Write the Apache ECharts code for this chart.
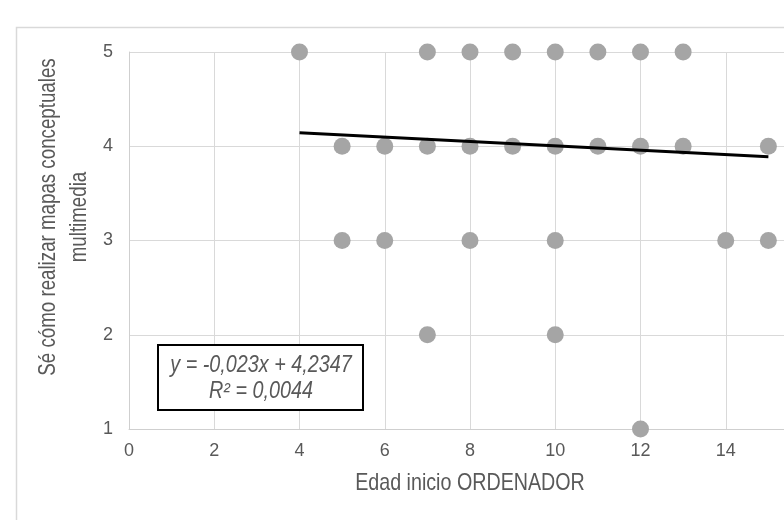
<!DOCTYPE html>
<html>
<head>
<meta charset="utf-8">
<script src="https://cdn.jsdelivr.net/npm/echarts@6/dist/echarts.min.js"></script>
<style>
  html, body { margin: 0; padding: 0; background: #ffffff; overflow: hidden; width: 784px; height: 520px; }
  #chart { width: 840px; height: 520px; }
</style>
</head>
<body>
<div id="chart"></div>
<script>
// Survey answers: age of first computer use vs. self-rated multimedia concept-map skill
var edadInicio = [4, 7, 8, 9, 10, 11, 12, 13,
                  5, 6, 7, 8, 9, 10, 11, 12, 13, 15,
                  5, 6, 8, 10, 14, 15,
                  7, 10,
                  12];
var valoracion = [5, 5, 5, 5, 5, 5, 5, 5,
                  4, 4, 4, 4, 4, 4, 4, 4, 4, 4,
                  3, 3, 3, 3, 3, 3,
                  2, 2,
                  1];

// Linear trendline reported by the spreadsheet
var pendiente = -0.023;
var ordenada = 4.2347;
var r2Texto = 'R² = 0,0044';
var ecuacionTexto = 'y = -0,023x + 4,2347';

var xTicks = { min: 0, max: 16, interval: 2 };
var yTicks = { min: 1, max: 5, interval: 1 };

var tituloX = 'Edad inicio ORDENADOR';
var tituloY = 'Sé cómo realizar mapas conceptuales\nmultimedia';

var puntos = edadInicio.map(function (x, i) { return [x, valoracion[i]]; });
var xMin = Math.min.apply(null, edadInicio);
var xMax = Math.max.apply(null, edadInicio);
var tendencia = [[xMin, pendiente * xMin + ordenada], [xMax, pendiente * xMax + ordenada]];

var textColor = '#595959';
var gridColor = '#D9D9D9';
var fontFam = '"Liberation Sans", Arial, sans-serif';

// The plot runs past the right edge of the visible page; the canvas is wider than the window.
var chart = echarts.init(document.getElementById('chart'), null, { renderer: 'canvas' });
chart.setOption({
  animation: false,
  backgroundColor: '#ffffff',
  grid: { left: 129, right: 29, top: 52, bottom: 91, containLabel: false },
  xAxis: {
    type: 'value',
    min: xTicks.min, max: xTicks.max, interval: xTicks.interval,
    axisLine: { show: true, lineStyle: { color: '#CFCFCF', width: 1 } },
    axisTick: { show: false },
    axisLabel: { color: textColor, fontSize: 18, fontFamily: fontFam, margin: 13 },
    splitLine: { show: true, lineStyle: { color: gridColor, width: 1 } }
  },
  yAxis: {
    type: 'value',
    min: yTicks.min, max: yTicks.max, interval: yTicks.interval,
    axisLine: { show: true, lineStyle: { color: '#CFCFCF', width: 1 } },
    axisTick: { show: false },
    axisLabel: { color: textColor, fontSize: 18, fontFamily: fontFam, margin: 16 },
    splitLine: { show: true, lineStyle: { color: gridColor, width: 1 } }
  },
  series: [
    {
      type: 'scatter',
      data: puntos,
      symbol: 'circle',
      symbolSize: 17,
      itemStyle: { color: '#A5A5A5', opacity: 1 },
      z: 2
    },
    {
      type: 'line',
      data: tendencia,
      symbol: 'none',
      lineStyle: { color: '#000000', width: 3 },
      z: 3
    }
  ],
  graphic: [
    {
      type: 'rect',
      shape: { x: 16.5, y: 27.5, width: 900, height: 600 },
      style: { fill: 'none', stroke: gridColor, lineWidth: 1.5 },
      silent: true, z: 0
    },
    {
      type: 'text',
      x: 470, y: 483,
      scaleX: 0.82,
      style: {
        text: tituloX, font: '24px ' + fontFam, fill: textColor,
        align: 'center', verticalAlign: 'middle'
      },
      z: 10
    },
    {
      type: 'text',
      x: 64, y: 217,
      rotation: Math.PI / 2,
      scaleX: 0.78,
      style: {
        text: tituloY, font: '24px ' + fontFam, fill: textColor,
        align: 'center', verticalAlign: 'middle', lineHeight: 31
      },
      z: 10
    },
    {
      type: 'rect',
      shape: { x: 158, y: 345, width: 205, height: 65 },
      style: { fill: '#ffffff', stroke: '#000000', lineWidth: 2 },
      z: 20
    },
    {
      type: 'text',
      x: 261, y: 366,
      scaleX: 0.86,
      style: {
        text: ecuacionTexto, font: 'italic 23px ' + fontFam, fill: textColor,
        align: 'center', verticalAlign: 'middle'
      },
      z: 21
    },
    {
      type: 'text',
      x: 261, y: 392,
      scaleX: 0.86,
      style: {
        text: r2Texto, font: 'italic 23px ' + fontFam, fill: textColor,
        align: 'center', verticalAlign: 'middle'
      },
      z: 21
    }
  ]
});
</script>
</body>
</html>
